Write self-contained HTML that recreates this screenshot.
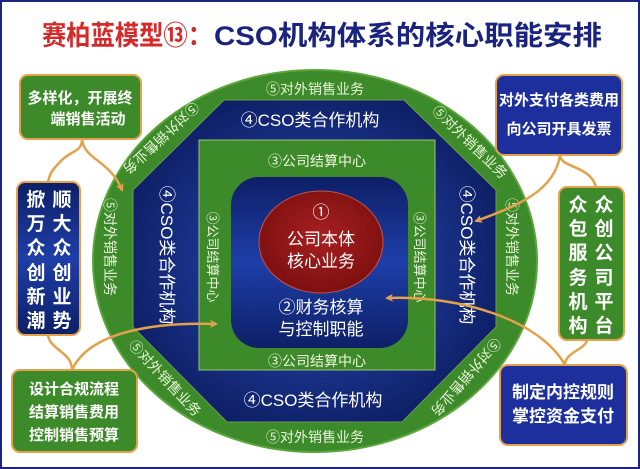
<!DOCTYPE html>
<html><head><meta charset="utf-8"><style>
html,body{margin:0;padding:0;background:#fff}
svg{display:block}
text{font-family:"Liberation Sans","Noto Sans CJK SC",sans-serif}
</style></head><body>
<svg width="640" height="469" viewBox="0 0 640 469" xmlns="http://www.w3.org/2000/svg">
<defs>
<radialGradient id="bl" cx="50%" cy="50%" r="60%"><stop offset="0" stop-color="#2a4fc0"/><stop offset="1" stop-color="#0b1a5c"/></radialGradient>
<linearGradient id="bl2" x1="0" y1="0" x2="0" y2="1"><stop offset="0" stop-color="#0d1f66"/><stop offset=".5" stop-color="#1e3ea8"/><stop offset="1" stop-color="#0d1f66"/></linearGradient>
<radialGradient id="rd" cx="50%" cy="45%" r="60%"><stop offset="0" stop-color="#a82020"/><stop offset="1" stop-color="#7a0e0e"/></radialGradient>
<marker id="ar" markerWidth="8" markerHeight="8" refX="6" refY="4" orient="auto" markerUnits="userSpaceOnUse"><path d="M0,0 L8,4 L0,8 L2,4z" fill="#e3a14a"/></marker>
</defs>
<rect x="1" y="1" width="638" height="467" fill="#fff" stroke="#1a237e" stroke-width="2"/>
<text x="42" y="45" font-size="27" font-weight="bold" fill="#d42a2a" textLength="170" lengthAdjust="spacingAndGlyphs">赛柏蓝模型⑬：</text>
<text x="214" y="45" font-size="27" font-weight="bold" fill="#1a237e" textLength="388" lengthAdjust="spacingAndGlyphs">CSO机构体系的核心职能安排</text>

<ellipse cx="315" cy="261" rx="222" ry="191" fill="#3d8a2a" stroke="#5aa63c" stroke-width="2"/>
<polygon points="224,100 404,100 496,190 496,327 402,422 227,422 133,327 133,190" fill="url(#bl)" stroke="#6a9a50" stroke-width="1"/>
<rect x="199" y="140" width="236" height="230" fill="#3d8a2a" stroke="#9fc070" stroke-width="1"/>
<rect x="231" y="177" width="177" height="171" rx="28" fill="url(#bl2)"/>
<ellipse cx="321" cy="242" rx="62" ry="51" fill="url(#rd)" stroke="#c45050" stroke-width="1"/>

<g fill="#fff" text-anchor="middle">
<text x="321" y="218" font-size="17">①</text>
<text x="321" y="245" font-size="17">公司本体</text>
<text x="321" y="267" font-size="17">核心业务</text>
<text x="321" y="313" font-size="17">②财务核算</text>
<text x="321" y="335" font-size="17">与控制职能</text>
</g>
<g fill="#e8f4d8" text-anchor="middle" font-size="14">
<text x="315" y="94">⑤对外销售业务</text>
<text x="315" y="442">⑤对外销售业务</text>
<text transform="translate(110,247) rotate(90)" y="5">⑤对外销售业务</text>
<text transform="translate(512,247) rotate(90)" y="5">⑤对外销售业务</text>
<text transform="translate(161,138) rotate(137)" y="5">⑤对外销售业务</text>
<text transform="translate(470,142) rotate(44)" y="5">⑤对外销售业务</text>
<text transform="translate(165,378) rotate(47)" y="5">⑤对外销售业务</text>
<text transform="translate(466,377) rotate(131)" y="5">⑤对外销售业务</text>
</g>
<g fill="#fff" text-anchor="middle" font-size="17">
<text x="310" y="126">④CSO类合作机构</text>
<text x="313" y="406">④CSO类合作机构</text>
<text transform="translate(167,255) rotate(90)" y="6">④CSO类合作机构</text>
<text transform="translate(467,255) rotate(90)" y="6">④CSO类合作机构</text>
</g>
<g fill="#f0f8e0" text-anchor="middle" font-size="14">
<text x="317" y="166">③公司结算中心</text>
<text x="317" y="366">③公司结算中心</text>
<text transform="translate(213,257) rotate(90)" y="5" font-size="13">③公司结算中心</text>
<text transform="translate(420,257) rotate(90)" y="5" font-size="13">③公司结算中心</text>
</g>

<g fill="none" stroke="#e3a14a" stroke-width="2.5">
<path d="M82,139 C82,152 72,150 62,160 C54,168 50,172 48,182"/>
<path d="M82,139 C84,160 110,160 122,190" marker-end="url(#ar)"/>
<path d="M560,155 C560,168 590,165 596,187"/>
<path d="M560,155 C555,190 520,205 476,221" marker-end="url(#ar)"/>
<path d="M72,370 C72,352 50,350 48,335"/>
<path d="M72,370 C90,330 160,322 216,324" marker-end="url(#ar)"/>
<path d="M565,365 C565,352 585,350 587,340"/>
<path d="M565,365 C540,320 460,295 387,298" marker-end="url(#ar)"/>
</g>

<rect x="20" y="75" width="121" height="64" rx="8" fill="#3d8a2a" stroke="#e3a14a" stroke-width="2"/>
<text x="80" y="103" font-size="15" fill="#fff" text-anchor="middle" font-weight="bold">多样化，开展终</text>
<text x="88" y="124" font-size="15" fill="#fff" text-anchor="middle" font-weight="bold">端销售活动</text>

<rect x="17" y="182" width="63" height="153" rx="8" fill="url(#bl2)" stroke="#e3a14a" stroke-width="2"/>
<g fill="#fff" font-size="19" font-weight="bold" text-anchor="middle">
<text x="36" y="206">掀</text><text x="36" y="230">万</text><text x="36" y="254">众</text><text x="36" y="279">创</text><text x="36" y="303">新</text><text x="36" y="327">潮</text>
<text x="62" y="206">顺</text><text x="62" y="230">大</text><text x="62" y="254">众</text><text x="62" y="279">创</text><text x="62" y="303">业</text><text x="62" y="327">势</text>
</g>

<rect x="12" y="370" width="125" height="82" rx="8" fill="#3d8a2a" stroke="#e3a14a" stroke-width="2"/>
<g fill="#fff" font-size="15" font-weight="bold" text-anchor="middle">
<text x="74" y="394">设计合规流程</text><text x="74" y="417">结算销售费用</text><text x="74" y="440">控制销售预算</text>
</g>

<rect x="496" y="75" width="126" height="80" rx="8" fill="#1c2f9c" stroke="#e3a14a" stroke-width="2"/>
<g fill="#fff" font-size="15" font-weight="bold" text-anchor="middle">
<text x="559" y="105">对外支付各类费用</text><text x="559" y="134">向公司开具发票</text>
</g>

<rect x="559" y="187" width="65" height="153" rx="8" fill="#3d8a2a" stroke="#e3a14a" stroke-width="2"/>
<g fill="#fff" font-size="19" font-weight="bold" text-anchor="middle">
<text x="578" y="211">众</text><text x="578" y="235">包</text><text x="578" y="259">服</text><text x="578" y="284">务</text><text x="578" y="308">机</text><text x="578" y="332">构</text>
<text x="604" y="211">众</text><text x="604" y="235">创</text><text x="604" y="259">公</text><text x="604" y="284">司</text><text x="604" y="308">平</text><text x="604" y="332">台</text>
</g>

<rect x="500" y="365" width="127" height="80" rx="8" fill="#1c2f9c" stroke="#e3a14a" stroke-width="2"/>
<g fill="#fff" font-size="17" font-weight="bold" text-anchor="middle">
<text x="563" y="398">制定内控规则</text><text x="563" y="422">掌控资金支付</text>
</g>
</svg>
</body></html>
